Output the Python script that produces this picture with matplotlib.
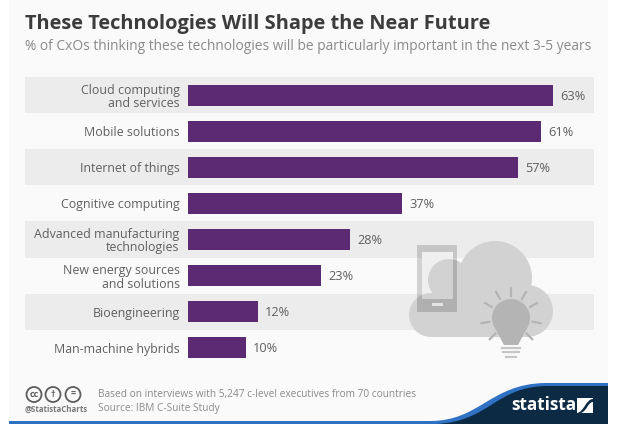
import matplotlib
matplotlib.use('Agg')
import matplotlib.pyplot as plt
import matplotlib.patches as patches
from matplotlib.path import Path
import numpy as np

W, H = 622, 430

categories = ['Cloud computing\nand services', 'Mobile solutions', 'Internet of things',
              'Cognitive computing', 'Advanced manufacturing\ntechnologies',
              'New energy sources\nand solutions', 'Bioengineering', 'Man-machine hybrids']
values = [63, 61, 57, 37, 28, 23, 12, 10]

title = 'These Technologies Will Shape the Near Future'
subtitle = '% of CxOs thinking these technologies will be particularly important in the next 3-5 years'
note = 'Based on interviews with 5,247 c-level executives from 70 countries'
source = 'Source: IBM C-Suite Study'

plt.rcParams['font.family'] = ['Open Sans', 'DejaVu Sans']

fig = plt.figure(figsize=(W / 100, H / 100), dpi=100, facecolor='white')

# Hintergrund in Pixelkoordinaten
bg = fig.add_axes([0, 0, 1, 1])
bg.set_xlim(0, W)
bg.set_ylim(H, 0)
bg.axis('off')
bg.add_patch(patches.Rectangle((9, 0), 599, 423, fc='#fafafa', ec='none'))

for i in range(0, 8, 2):
    bg.add_patch(patches.Rectangle((25, 77 + i * 36.1), 569, 36.1, fc='#ececec', ec='none', zorder=1))

# Telefonskarm under molnet
bg.add_patch(patches.Rectangle((422, 252), 31, 47, fc='#efefef', ec='none', zorder=2))

# Moln
cloud = '#d2d2d2'
for (cx, cy, r) in [(495, 278, 37), (527, 311, 26), (431, 315, 22), (449, 280, 21)]:
    bg.add_patch(patches.Circle((cx, cy), r, fc=cloud, ec='none', zorder=3))
bg.add_patch(patches.Rectangle((431, 295), 96, 42, fc=cloud, ec='none', zorder=3))

# Telefonram
frame = Path([(417, 245), (457, 245), (457, 312), (417, 312), (417, 245),
              (422, 252), (422, 299), (453, 299), (453, 252), (422, 252)],
             [Path.MOVETO, Path.LINETO, Path.LINETO, Path.LINETO, Path.CLOSEPOLY,
              Path.MOVETO, Path.LINETO, Path.LINETO, Path.LINETO, Path.CLOSEPOLY])
bg.add_patch(patches.PathPatch(frame, fc='black', alpha=0.16, ec='none', zorder=4))
bg.add_patch(patches.Rectangle((432, 303), 11, 2.5, fc='#e4e4e4', ec='none', zorder=5))

# Lampa
bg.add_patch(patches.Circle((511, 318), 19, fc='#b4b4b4', ec='none', zorder=5))
bg.add_patch(patches.Polygon([[495, 328], [527, 328], [518, 345], [504, 345]], fc='#b4b4b4', ec='none', zorder=5))
for y0, hw in [(348, 9), (352, 8), (357, 5)]:
    bg.plot([511 - hw, 511 + hw], [y0, y0], color='#c6c6c6', lw=1.6, zorder=5)
for a in [-90, -60, -30, 10, 45, -120, -150, 170, 135]:
    t = np.radians(a)
    bg.plot([511 + 22 * np.cos(t), 511 + 30 * np.cos(t)], [318 + 22 * np.sin(t), 318 + 30 * np.sin(t)],
            color='#b4b4b4', lw=1.6, zorder=5)

# Fusszeile
blue = Path([(9, 421), (430, 421), (480, 421), (490, 384), (545, 383), (608, 383), (608, 424), (9, 424), (9, 421)],
            [Path.MOVETO, Path.LINETO, Path.CURVE4, Path.CURVE4, Path.CURVE4, Path.LINETO, Path.LINETO,
             Path.LINETO, Path.CLOSEPOLY])
bg.add_patch(patches.PathPatch(blue, fc='#2f72c4', ec='none', zorder=3))
dark = Path([(435, 424), (490, 422), (495, 386), (548, 386), (608, 386), (608, 424), (435, 424)],
            [Path.MOVETO, Path.CURVE4, Path.CURVE4, Path.CURVE4, Path.LINETO, Path.LINETO, Path.CLOSEPOLY])
bg.add_patch(patches.PathPatch(dark, fc='#0d2a45', ec='none', zorder=4))

for cx, s in [(34, 'cc'), (53, '\u2020'), (73, '=')]:
    bg.add_patch(patches.Circle((cx, 394.5), 7.5, fc='none', ec='#5c5c5c', lw=1.3))
    bg.text(cx, 394.5, s, ha='center', va='center', fontsize=6.5, fontweight='bold', color='#5c5c5c')
bg.text(25, 409, '@StatistaCharts', fontsize=5.7, fontweight='bold', color='#7a7a7a', va='center')
bg.text(98, 394, note, fontsize=7.25, color='#8a8a8a', va='center')
bg.text(98, 409, source, fontsize=7.25, color='#8a8a8a', va='center')
bg.text(511, 405, 'statista', fontsize=12.3, fontweight='bold', color='white', va='center', zorder=6)
bg.add_patch(patches.Rectangle((577, 398), 16, 15, fc='white', ec='none', zorder=6))
logo = Path([(577, 413), (584, 412), (586, 399), (593, 399), (593, 402), (588, 402), (587, 411), (581, 413), (577, 413)],
            [Path.MOVETO, Path.CURVE4, Path.CURVE4, Path.CURVE4, Path.LINETO, Path.CURVE4, Path.CURVE4, Path.CURVE4,
             Path.CLOSEPOLY])
bg.add_patch(patches.PathPatch(logo, fc='#0d2a45', ec='none', zorder=7))

bg.text(25, 24, title, fontsize=14.45, fontweight='bold', color='#3c3c3c', va='center')
bg.text(25, 46, subtitle, fontsize=9.9, color='#8a8a8a', va='center')

# Staplar
left, top, rows = 188, 77, 8 * 36.1
width = 5.794 * 70
ax = fig.add_axes([left / W, 1 - (top + rows) / H, width / W, rows / H])
ax.patch.set_alpha(0)
y = np.arange(len(values))
ax.barh(y, values, height=0.58, color='#5b2a72', zorder=6)
ax.set_xlim(0, 70)
ax.set_ylim(len(values) - 0.5, -0.5)
ax.set_xticks([])
ax.set_yticks(y, categories, fontsize=8.9, color='#606060', linespacing=1.05)
ax.tick_params(axis='y', length=0, pad=6)
for s in ax.spines.values():
    s.set_visible(False)
for yi, v in zip(y, values):
    ax.text(v + 1.2, yi + 0.03, f'{v}%', va='center', fontsize=9.2, color='#606060')

fig.savefig('out.png', dpi=100, facecolor='white')
